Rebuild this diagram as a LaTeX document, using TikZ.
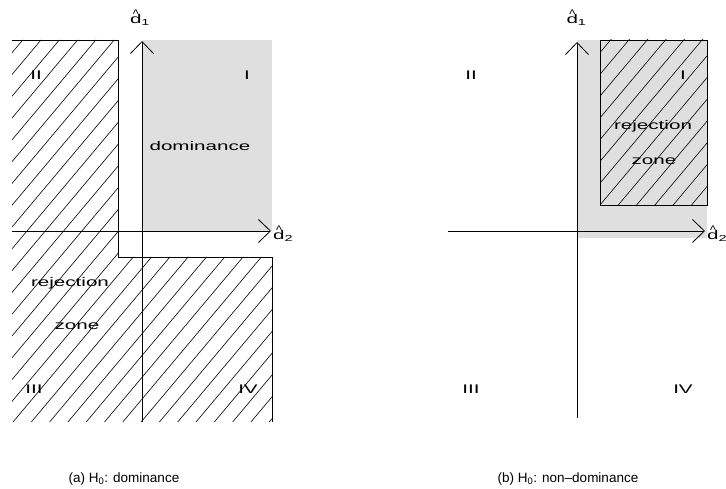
\documentclass[tikz,border=0pt]{standalone}
\usepackage{fontspec}
\setmainfont{Liberation Sans}
\newfontfamily\widefont{Liberation Sans}[FakeStretch=1.65]
\usetikzlibrary{arrows.meta}
\definecolor{zonegray}{RGB}{223,223,223}
\newcommand{\dhatsym}{\ooalign{d\cr\hidewidth{\rmfamily\raisebox{0.47em}{\^{}}}\hidewidth\cr}}
\tikzset{
  lab/.style={inner sep=0pt, anchor=base, font=\widefont\fontsize{12.5}{14}\selectfont},
  axlab/.style={inner sep=0pt, anchor=base west, font=\widefont\fontsize{12.5}{14}\selectfont},
  captext/.style={inner sep=0pt, anchor=base, font=\fontsize{13.5}{16}\selectfont},
  axis/.style={line width=0.8pt, -{Straight Barb[length=12pt,width=23pt,line width=0.8pt]}},
  border/.style={line width=0.8pt},
  hatch/.style={line width=0.6pt},
}
\begin{document}
\begin{tikzpicture}[x=1pt,y=-1pt]
\useasboundingbox (0,0) rectangle (726,489);
% ---------------- panel (a) ----------------
\fill[zonegray] (142,40) rectangle (272,231);
\begin{scope}
  \clip (12,40) -- (118,40) -- (118,257) -- (272,257) -- (272,422) -- (12,422) -- cycle;
  \foreach \k in {-20,...,16} {
    \draw[hatch] (13+\k*18.3,422) -- ++(330,-393);
  }
\end{scope}
\draw[border] (12,40) -- (118,40) -- (118,257) -- (272,257) -- (272,422);
\coordinate (a-vb) at (142,422);
\coordinate (a-vt) at (142,41);
\coordinate (a-hl) at (12,231);
\coordinate (a-hr) at (271,231);
\draw[axis] (a-vb) -- (a-vt);
\draw[axis] (a-hl) -- (a-hr);
\node[lab] (a-d1) at (140,24) {\dhatsym\textsubscript{1}};
\node[axlab] (a-d2) at (273,240) {\dhatsym\textsubscript{2}};
\node[lab] (a-II) at (36,80) {II};
\node[lab] (a-I) at (247,80) {I};
\node[lab] (a-dom) at (200,151) {dominance};
\node[lab] (a-rej) at (70,287) {rejection};
\node[lab] (a-zone) at (77,330) {zone};
\node[lab] (a-III) at (34,393) {III};
\node[lab] (a-IV) at (248,393) {IV};
\node[captext] (a-cap) at (124,482) {(a) H\textsubscript{0}: dominance};
% ---------------- panel (b) ----------------
\fill[zonegray] (577,40) rectangle (707,238);
\begin{scope}
  \clip (600,40) rectangle (707,205);
  \foreach \k in {-12,...,8} {
    \draw[hatch] (600+\k*18.3,205) -- ++(200,-238);
  }
\end{scope}
\draw[border] (600,40) rectangle (707,205);
\coordinate (b-vb) at (577,418);
\coordinate (b-vt) at (577,42);
\coordinate (b-hl) at (448,231);
\coordinate (b-hr) at (705,231);
\draw[axis] (b-vb) -- (b-vt);
\draw[axis] (b-hl) -- (b-hr);
\node[lab] (b-d1) at (576.5,24) {\dhatsym\textsubscript{1}};
\node[axlab] (b-d2) at (707,240) {\dhatsym\textsubscript{2}};
\node[lab] (b-II) at (471,80) {II};
\node[lab] (b-I) at (683,80) {I};
\node[lab] (b-rej) at (653,130) {rejection};
\node[lab] (b-zone) at (654,165) {zone};
\node[lab] (b-III) at (471,393) {III};
\node[lab] (b-IV) at (683,393) {IV};
\node[captext] (b-cap) at (568,482) {(b) H\textsubscript{0}: non–dominance};
\end{tikzpicture}
\end{document}
